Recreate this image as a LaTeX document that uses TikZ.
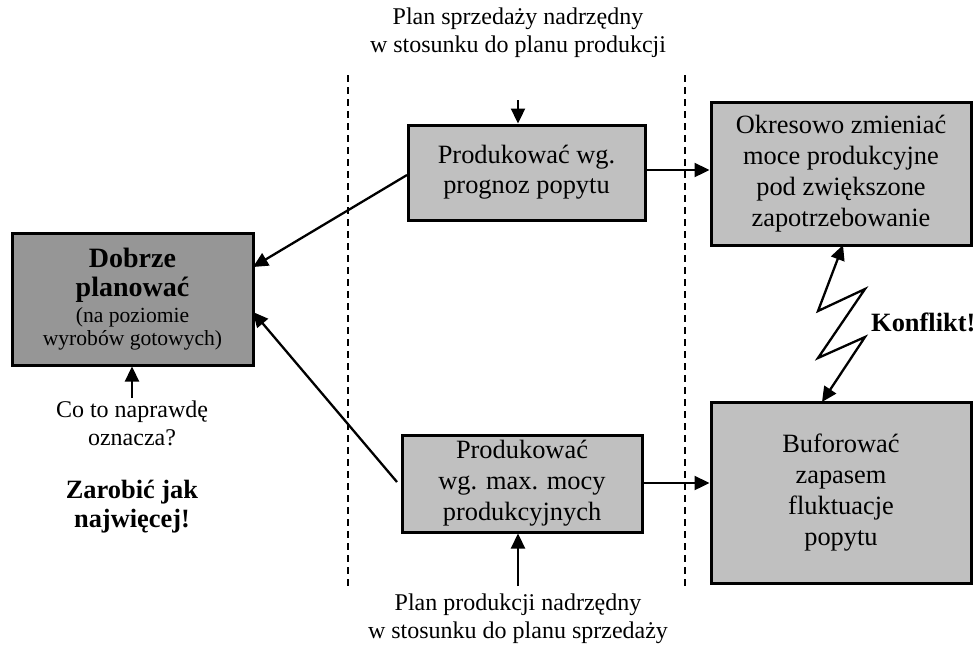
\documentclass[tikz,border=0pt]{standalone}
\usepackage{fontspec}
\setmainfont{Liberation Serif}
\usetikzlibrary{arrows.meta}
\definecolor{lightbox}{RGB}{192,192,192}
\definecolor{darkbox}{RGB}{150,150,150}
\tikzset{
  boxstyle/.style={draw=black, line width=3pt, fill=lightbox, align=center, inner sep=0pt,
    font=\fontsize{26.4}{31}\selectfont},
  arr/.style={line width=2.3pt, -{Triangle[length=15pt,width=14pt]}},
  dblarr/.style={line width=2.3pt, {Triangle[length=15pt,width=14pt]}-{Triangle[length=15pt,width=14pt]}},
  sep/.style={line width=1.5pt, dash pattern=on 7pt off 5pt},
  plain/.style={align=center, inner sep=0pt, font=\fontsize{24}{28}\selectfont},
}
\begin{document}
\begin{tikzpicture}[x=1pt,y=-1pt]
\useasboundingbox (0,0) rectangle (976,646);
% separators
\coordinate (s1a) at (348,75); \coordinate (s1b) at (348,588);
\coordinate (s2a) at (685,75); \coordinate (s2b) at (685,588);
\draw[sep] (s1a) -- (s1b);
\draw[sep] (s2a) -- (s2b);
% boxes
\node[boxstyle, fill=darkbox, minimum width=241pt, minimum height=132pt, font=\fontsize{28}{29}\selectfont] (good) at (132.5,299)
 {\textbf{Dobrze}\\\textbf{planować}\\[-3pt]
  {\fontsize{21.6}{21}\selectfont (na poziomie}\\[-6pt]{\fontsize{21.6}{21}\selectfont wyrobów gotowych)}};
\node[boxstyle, minimum width=237pt, minimum height=95pt, font=\fontsize{26.4}{30}\selectfont] (fore) at (526.5,172.5)
 {Produkować wg.\\prognoz popytu};
\node[boxstyle, minimum width=240pt, minimum height=97pt] (maxc) at (522,483.5)
 {Produkować\\wg. max. mocy\\produkcyjnych};
\node[boxstyle, minimum width=260pt, minimum height=143pt] (cap) at (841,173.5)
 {Okresowo zmieniać\\moce produkcyjne\\pod zwiększone\\zapotrzebowanie};
\node[boxstyle, minimum width=260pt, minimum height=181pt] (buf) at (841,492.5)
 {Buforować\\zapasem\\fluktuacje\\popytu};
% free texts
\node[plain] (topt) at (518,33) {Plan sprzedaży nadrzędny\\w stosunku do planu produkcji};
\node[plain] (bott) at (518,619) {Plan produkcji nadrzędny\\w stosunku do planu sprzedaży};
\node[plain] (what) at (132,423) {Co to naprawdę\\oznacza?};
\node[plain, font=\bfseries\fontsize{26.4}{29}\selectfont] (earn) at (132,507) {Zarobić jak\\najwięcej!};
\node[plain, font=\bfseries\fontsize{26.4}{29}\selectfont, anchor=west] (konf) at (871,322) {Konflikt!};
% arrows
\coordinate (tin) at (518,100);
\draw[arr] (tin) -- (fore.north -| tin);
\coordinate (bin) at (518,586);
\draw[arr] (bin) -- (maxc.south -| bin);
\coordinate (win) at (132,398);
\draw[arr] (win) -- (good.south -| win);
\draw[arr] (fore.east |- 0,170) -- (cap.west |- 0,170);
\draw[arr] (maxc.east |- 0,483) -- (buf.west |- 0,483);
\coordinate (f1) at (407,175);
\coordinate (g1) at (253,267);
\draw[arr] (f1) -- (g1);
\coordinate (m1) at (397,482);
\coordinate (g2) at (253,312);
\draw[arr] (m1) -- (g2);
% zigzag conflict
\coordinate (z0) at (843,245);
\coordinate (z5) at (822,402);
\draw[dblarr, line join=miter] (z0) -- (818,311) -- (865,289) -- (818,358) -- (865,337) -- (z5);
\end{tikzpicture}
\end{document}
